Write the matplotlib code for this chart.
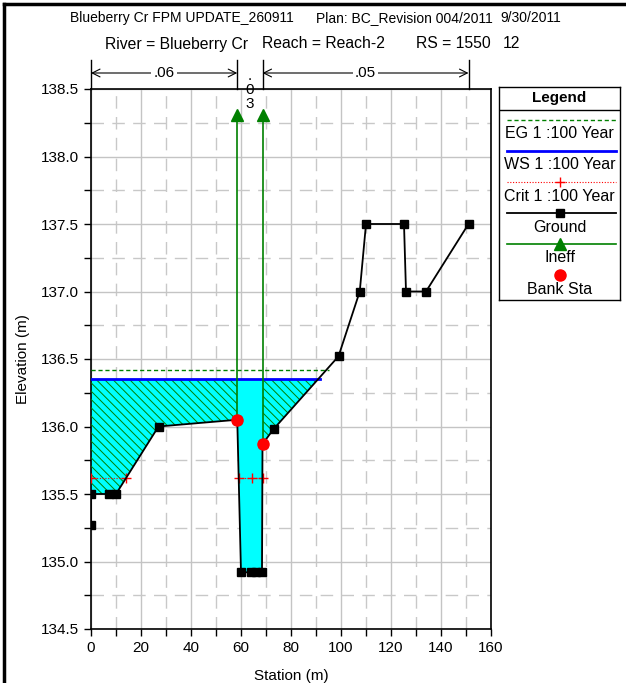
import numpy as np
import matplotlib
matplotlib.use("Agg")
import matplotlib.pyplot as plt
import matplotlib.transforms as mtransforms
from matplotlib.lines import Line2D
from matplotlib.patches import Rectangle

plt.rcParams["font.family"] = ["Liberation Sans", "DejaVu Sans"]
plt.rcParams["hatch.linewidth"] = 0.7

ground_sta = np.array([0, 0, 7, 10, 27, 58.5, 60, 64, 66, 68.4, 68.6,
                       73, 99, 107.5, 110, 125.2, 126, 134, 151])
ground_el = np.array([135.27, 135.5, 135.5, 135.5, 136.0, 136.05, 134.92,
                      134.92, 134.92, 134.92, 135.87, 135.98, 136.52,
                      137.0, 137.5, 137.5, 137.0, 137.0, 137.5])
bank_sta = [58.5, 68.6]
bank_el = [136.05, 135.87]
ws_sta = [0, 91.6]
ws_el = 136.35
eg_sta = [0, 95.0]
eg_el = 136.42
crit_sta = [0, 14.1, np.nan, 59.0, 64.3, 68.6]
crit_el = 135.62
ineff_el = 138.31
n_sta = [0, 58.5, 68.6, 151]
n_vals = [".06", ".03", ".05"]

header1 = ["Blueberry Cr FPM UPDATE_260911", "Plan: BC_Revision 004/2011", "9/30/2011"]
header2 = ["River = Blueberry Cr", "Reach = Reach-2", "RS = 1550", "12"]
legend_labels = ["EG 1 :100 Year", "WS 1 :100 Year", "Crit 1 :100 Year",
                 "Ground", "Ineff", "Bank Sta"]

W, H = 626, 683
fig = plt.figure(figsize=(W / 100, H / 100), dpi=100)
ax = fig.add_axes([91 / W, 54 / H, 400 / W, 540 / H])

def fy(py):
    return 1 - py / H

# ── Water fill + ineffective hatching ──
wet = ground_el < ws_el
ax.fill_between(ground_sta, ground_el, ws_el, where=wet, interpolate=True,
                facecolor="#00ffff", edgecolor="none", lw=0, zorder=2)
ax.set_xlim(0, 160)
ax.set_ylim(134.5, 138.5)
blend = mtransforms.blended_transform_factory(ax.transData, ax.transAxes)
clips = [(-5, bank_sta[0] + 5), (bank_sta[1], 200 - bank_sta[1])]
for x0, w in clips:
    hat = ax.fill_between(ground_sta, ground_el, ws_el, where=wet, interpolate=True,
                          facecolor="none", edgecolor="#008000", lw=0,
                          hatch="\\\\\\\\", zorder=3)
    hat.set_clip_path(Rectangle((x0, 0), w, 1, transform=blend))

# ── Lines ──
ax.plot(ws_sta, [ws_el, ws_el], color="#0000ff", lw=2, zorder=4)
ax.plot(eg_sta, [eg_el, eg_el], color="#008000", lw=1, ls=(0, (3, 2)), zorder=4)
ax.plot(crit_sta, [crit_el] * len(crit_sta), color="red", lw=0.8, ls=(0, (1, 1.5)),
        marker="+", ms=7, mew=1, zorder=4)
for s, e in zip(bank_sta, bank_el):
    ax.plot([s, s], [e, ineff_el], color="#008000", lw=1.2, zorder=4)
    ax.plot(s, ineff_el, marker="^", color="#008000", ms=8, zorder=5, clip_on=False)
ax.plot(ground_sta, ground_el, color="black", lw=1.3, marker="s", ms=5.5, zorder=5)
ax.plot(bank_sta, bank_el, ls="none", marker="o", color="red", ms=8, zorder=6)

# ── Axes styling ──
ax.set_xticks(np.arange(0, 161, 20))
ax.set_xticks(np.arange(10, 160, 20), minor=True)
ax.set_yticks(np.arange(134.5, 138.51, 0.5))
ax.set_yticks(np.arange(134.75, 138.5, 0.5), minor=True)
ax.set_yticklabels([f"{v:.1f}" for v in np.arange(134.5, 138.51, 0.5)])
ax.grid(which="major", color="#c4c4c4", lw=1, ls="-", zorder=0)
ax.grid(which="minor", color="#c8c8c8", lw=1, ls=(0, (9, 6)), zorder=0)
ax.set_axisbelow(True)
ax.tick_params(which="both", direction="out", length=5, width=1, labelsize=11,
               colors="black")
for sp in ax.spines.values():
    sp.set_linewidth(1.2)
ax.set_xlabel("Station (m)", fontsize=11, labelpad=10)
ax.set_ylabel("Elevation (m)", fontsize=11, labelpad=8)

# ── Manning's n bar above the plot ──
top = mtransforms.blended_transform_factory(ax.transData, fig.transFigure)
for s in n_sta:
    ax.add_line(Line2D([s, s], [fy(60), fy(89)], transform=top, color="black",
                       lw=1, clip_on=False))
for i, lab in enumerate(n_vals):
    a, b = n_sta[i], n_sta[i + 1]
    mid = (a + b) / 2
    if b - a > 20:
        ax.annotate("", xy=(b, fy(73)), xytext=(a, fy(73)), xycoords=top,
                    textcoords=top, annotation_clip=False,
                    arrowprops=dict(arrowstyle="<->", lw=0.8, shrinkA=0, shrinkB=0,
                                    mutation_scale=14))
        ax.text(mid, fy(73), lab, transform=top, ha="center", va="center",
                fontsize=11, clip_on=False,
                bbox=dict(facecolor="white", edgecolor="none", pad=1.5))
    else:
        for k, ch in enumerate(lab):
            ax.text(mid, fy(76 + 14 * k), ch, transform=top, ha="center",
                    va="center", fontsize=11, clip_on=False, zorder=7)

# ── Header text ──
for x, t in zip([70, 316, 500], header1):
    fig.text(x / W, fy(18), t, fontsize=10, ha="left", va="center")
for x, t in zip([105, 262, 416, 503], header2):
    fig.text(x / W, fy(44), t, fontsize=11.3, ha="left", va="center")

# ── Figure frame (left + top) ──
fig.add_artist(Line2D([4 / W, 4 / W], [0, fy(4)], color="black", lw=2.5))
fig.add_artist(Line2D([4 / W, 1], [fy(4), fy(4)], color="black", lw=2.5))

# ── Legend box ──
lg = fig.add_axes([499 / W, fy(300), 121 / W, 213 / H])
lg.set_xlim(0, 1)
lg.set_ylim(213, 0)
lg.set_xticks([])
lg.set_yticks([])
for sp in lg.spines.values():
    sp.set_linewidth(1)
lg.text(0.5, 11, "Legend", ha="center", va="center", fontsize=11, fontweight="bold")
lg.plot([0, 1], [23, 23], color="black", lw=1)
xs = [0.07, 0.5, 0.97]
line_y = [33, 64, 95, 126, 157, 188]
text_y = [46, 77, 109, 140, 171, 203]
lg.plot([xs[0], xs[2]], [line_y[0]] * 2, color="#008000", lw=1, ls=(0, (3, 2)))
lg.plot([xs[0], xs[2]], [line_y[1]] * 2, color="#0000ff", lw=2)
lg.plot([xs[0], xs[2]], [line_y[2]] * 2, color="red", lw=0.8, ls=(0, (1, 1.5)))
lg.plot(xs[1], line_y[2], marker="+", color="red", ms=7, mew=1)
lg.plot([xs[0], xs[2]], [line_y[3]] * 2, color="black", lw=1.3)
lg.plot(xs[1], line_y[3], marker="s", color="black", ms=5.5)
lg.plot([xs[0], xs[2]], [line_y[4]] * 2, color="#008000", lw=1.2)
lg.plot(xs[1], line_y[4], marker="^", color="#008000", ms=8)
lg.plot(xs[1], line_y[5], marker="o", color="red", ms=8)
for ty, lab in zip(text_y, legend_labels):
    lg.text(0.5, ty, lab, ha="center", va="center", fontsize=11.5)

fig.savefig("out.png", dpi=100)
